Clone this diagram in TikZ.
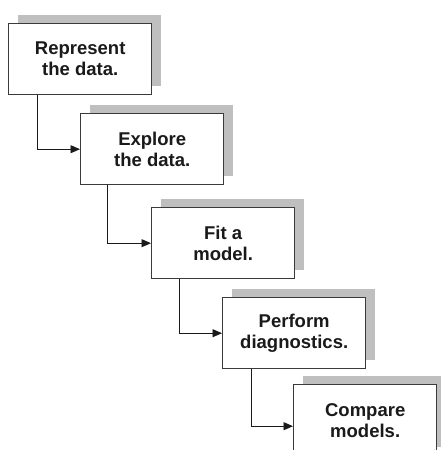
\documentclass[tikz,border=0pt]{standalone}
\usepackage{fontspec}
\setmainfont{Liberation Sans}
\usetikzlibrary{arrows.meta,shadows}
\definecolor{edge}{HTML}{3A3A3A}
\definecolor{shade}{HTML}{BFBFBF}
\definecolor{ink}{HTML}{1A1A1A}
\tikzset{
  stepbox/.style={draw=edge, line width=1.4pt, fill=white, anchor=north west,
    minimum width=143pt, minimum height=71pt, inner sep=0pt,
    align=center, text=ink,
    font=\fontsize{18.5pt}{21pt}\selectfont\bfseries,
    drop shadow={shadow xshift=9pt, shadow yshift=9pt, fill=shade, opacity=1}},
  conn/.style={draw=ink, line width=0.9pt, -{Triangle[length=9.5pt,width=8pt]}}
}
\begin{document}
\begin{tikzpicture}[x=1pt,y=-1pt]
\useasboundingbox (0,0) rectangle (441,450);
\clip (0,0) rectangle (441,450);
\node[stepbox] (b1) at (8,23) {Represent\\the data.};
\node[stepbox] (b2) at (80,113) {Explore\\the data.};
\node[stepbox] (b3) at (151,207) {Fit a\\model.};
\node[stepbox] (b4) at (222,297) {Perform\\diagnostics.};
\node[stepbox] (b5) at (293,384) {Compare\\models.};
\draw[conn] ([xshift=29pt]b1.south west) |- (b2.west);
\draw[conn] ([xshift=27pt]b2.south west) |- (b3.west);
\draw[conn] ([xshift=28pt]b3.south west) |- (b4.west);
\draw[conn] ([xshift=29pt]b4.south west) |- ([yshift=-6pt]b5.west);
\end{tikzpicture}
\end{document}
